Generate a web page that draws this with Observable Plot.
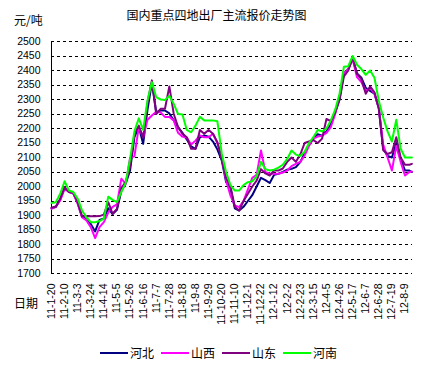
<!DOCTYPE html>
<html><head><meta charset="utf-8">
<script src="https://cdn.jsdelivr.net/npm/d3@7"></script>
<script src="https://cdn.jsdelivr.net/npm/@observablehq/plot@0.6"></script>
<style>
body{margin:0;background:#fff;}
#wrap{position:relative;width:433px;height:370px;overflow:hidden;font-family:"Noto Sans CJK SC",sans-serif;color:#000;}
#chart{position:absolute;left:0;top:0;}
.lbl{position:absolute;font-size:12px;line-height:12px;white-space:nowrap;}
#legend{position:absolute;left:100px;top:346px;height:14px;display:flex;align-items:center;font-size:12px;line-height:12px;}
#legend .item{display:flex;align-items:center;margin-right:7px;}
#legend i{display:inline-block;width:28px;height:2px;margin-right:2px;}
</style></head>
<body>
<div id="wrap">
  <div id="chart"></div>
  <div class="lbl" style="left:0;width:433px;text-align:center;top:9px">国内重点四地出厂主流报价走势图</div>
  <div class="lbl" style="left:14px;top:14px">元/吨</div>
  <div class="lbl" style="left:14px;top:297px">日期</div>
  <div id="legend"></div>
</div>
<script>
const dates = ["2011-01-20","2011-01-27","2011-02-03","2011-02-10","2011-02-17","2011-02-24","2011-03-03","2011-03-10","2011-03-17","2011-03-24","2011-03-31","2011-04-07","2011-04-14","2011-04-21","2011-04-28","2011-05-05","2011-05-12","2011-05-19","2011-05-26","2011-06-02","2011-06-09","2011-06-16","2011-06-23","2011-06-30","2011-07-07","2011-07-14","2011-07-21","2011-07-28","2011-08-04","2011-08-11","2011-08-18","2011-08-25","2011-09-01","2011-09-08","2011-09-15","2011-09-22","2011-09-29","2011-10-06","2011-10-13","2011-10-20","2011-10-27","2011-11-03","2011-11-10","2011-11-17","2011-11-24","2011-12-01","2011-12-08","2011-12-15","2011-12-22","2011-12-29","2012-01-05","2012-01-12","2012-01-19","2012-01-26","2012-02-02","2012-02-09","2012-02-16","2012-02-23","2012-03-01","2012-03-08","2012-03-15","2012-03-22","2012-03-29","2012-04-05","2012-04-12","2012-04-19","2012-04-26","2012-05-03","2012-05-10","2012-05-17","2012-05-24","2012-05-31","2012-06-07","2012-06-14","2012-06-21","2012-06-28","2012-07-05","2012-07-12","2012-07-19","2012-07-26","2012-08-02","2012-08-09","2012-08-16","2012-08-20"];

const seriesNames = ["河北", "山西", "山东", "河南"];
const seriesColors = ["#000080", "#FF00FF", "#800080", "#00FF00"];

const hebei = [1925,1929,1955,1995,1982,1976,1943,1895,1888,1871,
1845,1885,1890,1925,1905,1920,1985,2010,2055,2170,
2205,2147,2265,2358,2256,2262,2262,2252,2228,2205,
2185,2162,2138,2130,2170,2176,2172,2155,2128,2090,
2015,1995,1925,1917,1930,1950,1970,2000,2030,2022,
2012,2040,2044,2050,2058,2061,2067,2084,2115,2145,
2165,2180,2175,2190,2215,2255,2300,2390,2405,2440,
2390,2375,2340,2330,2320,2270,2130,2105,2100,2150,
2095,2055,2055,2050];

const shanxi = [1923,1931,1952,1992,1981,1977,1940,1894,1883,1860,
1822,1860,1877,1910,1930,1938,2027,2009,2099,2104,
2205,2170,2230,2245,2258,2255,2240,2240,2228,2185,
2172,2168,2145,2158,2176,2170,2170,2182,2150,2100,
2022,1969,1935,1929,1950,1990,2030,2040,2124,2050,
2044,2044,2044,2048,2055,2070,2078,2085,2107,2140,
2165,2172,2175,2185,2205,2250,2310,2390,2405,2440,
2377,2360,2330,2340,2320,2270,2145,2100,2055,2140,
2085,2038,2050,2052];

const shandong = [1927,1931,1958,1998,1981,1978,1946,1897,1897,1897,
1897,1898,1903,1946,1906,1923,1995,2015,2067,2182,
2210,2168,2290,2366,2250,2268,2268,2345,2251,2205,
2182,2170,2130,2130,2195,2182,2195,2182,2153,2096,
2030,2000,1930,1917,1950,1975,2000,2020,2060,2045,
2038,2055,2055,2062,2085,2100,2085,2110,2150,2155,
2160,2150,2165,2233,2225,2256,2300,2380,2400,2446,
2388,2370,2320,2345,2325,2268,2125,2112,2118,2170,
2100,2075,2075,2078];

const henan = [1943,1946,1975,2018,1986,1981,1958,1917,1894,1877,
1877,1881,1889,1965,1954,1946,1981,2012,2095,2190,
2235,2195,2297,2360,2308,2300,2298,2312,2285,2250,
2248,2195,2187,2210,2240,2228,2228,2228,2225,2115,
2050,2005,1986,1986,2005,2015,2018,2035,2085,2060,
2055,2058,2065,2075,2095,2124,2110,2105,2120,2150,
2170,2195,2190,2200,2228,2265,2320,2413,2415,2450,
2420,2405,2385,2400,2375,2295,2238,2190,2155,2230,
2130,2100,2100,2100];

const tickLabels = ["11-1-20","11-2-10","11-3-3","11-3-24","11-4-14","11-5-5","11-5-26","11-6-16","11-7-7","11-7-28","11-8-18","11-9-8","11-9-29","11-10-20","11-11-10","11-12-1","11-12-22","12-1-12","12-2-2","12-2-23","12-3-15","12-4-5","12-4-26","12-5-17","12-6-7","12-6-28","12-7-19","12-8-9"];
const yTicks = [1700,1750,1800,1850,1900,1950,2000,2050,2100,2150,2200,2250,2300,2350,2400,2450,2500];
const xDomain = ["2011-01-20", "2012-08-21"];

const parseLabel = s => { const [y, m, d] = s.split("-").map(Number); return new Date(Date.UTC(2000 + y, m - 1, d)); };
const tickDates = tickLabels.map(parseLabel);
const fmt = d => `${d.getUTCFullYear() % 100}-${d.getUTCMonth() + 1}-${d.getUTCDate()}`;

const allValues = [hebei, shanxi, shandong, henan];
const tables = allValues.map((vals, si) => dates.map((d, i) => ({date: new Date(d), value: vals[i], name: seriesNames[si]})));

const chart = Plot.plot({
  width: 433,
  height: 370,
  marginLeft: 51,
  marginRight: 21,
  marginTop: 41,
  marginBottom: 97,
  style: {fontFamily: "Arial, 'Liberation Sans', sans-serif", fontSize: "10.5px", color: "#000", background: "transparent", overflow: "visible"},
  x: {type: "utc", domain: xDomain.map(d => new Date(d))},
  y: {domain: [1700, 2500]},
  marks: [
    Plot.ruleY(yTicks, {stroke: "#000", strokeWidth: 1, strokeDasharray: "3,3", shapeRendering: "crispEdges"}),
    Plot.ruleX([new Date(xDomain[0])], {stroke: "#000", strokeWidth: 1, shapeRendering: "crispEdges"}),
    Plot.axisY(yTicks, {tickSize: 0, tickPadding: 11, label: null, fill: "#000", tickFormat: d => String(d)}),
    Plot.axisX(tickDates, {tickSize: 0, tickPadding: 10, tickRotate: -90, tickFormat: fmt, label: null, fill: "#000"}),
    ...tables.map((t, si) => Plot.line(t, {x: "date", y: "value", stroke: seriesColors[si], strokeWidth: 2}))
  ]
});
document.getElementById("chart").appendChild(chart);

const legend = document.getElementById("legend");
seriesNames.forEach((n, i) => {
  const item = document.createElement("div");
  item.className = "item";
  const sw = document.createElement("i");
  sw.style.background = seriesColors[i];
  item.appendChild(sw);
  const tx = document.createElement("span");
  tx.textContent = n;
  item.appendChild(tx);
  legend.appendChild(item);
});
</script>
</body></html>
